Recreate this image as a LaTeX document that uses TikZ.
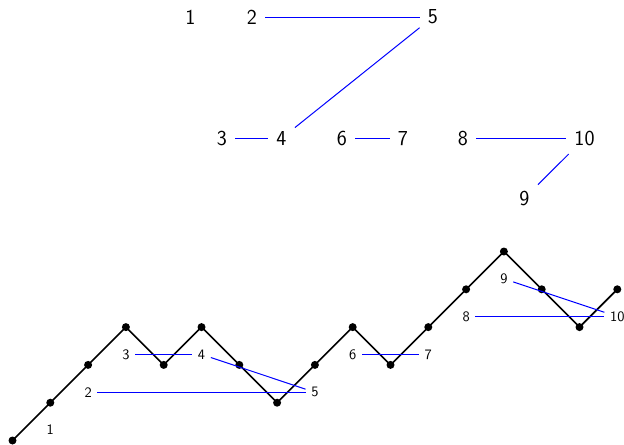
\documentclass[tikz,border=0pt]{standalone}

\tikzset{
  toplabel/.style={font=\sffamily\fontsize{16}{19}\selectfont, inner sep=6.3pt, outer sep=0pt},
  pathlabel/.style={font=\sffamily\fontsize{10.8}{13}\selectfont, inner sep=4.3pt, outer sep=0pt},
  pairing/.style={color={rgb, 255:red, 0; green, 0; blue, 255}, draw opacity=1, line width=0.75},
  vertex/.style={circle, fill=black, inner sep=0pt, minimum size=6pt}
}

\begin{document}
\begin{tikzpicture}[x=0.75pt,y=0.75pt,yscale=-1,xscale=1]
        \useasboundingbox (0,0) rectangle (624,444);
        % matching on top
        \node [toplabel] (t1) at (190.5,17) {1};
        \node [toplabel] (t2) at (252,17) {2};
        \node [toplabel] (t5) at (433,17) {5};
        \node [toplabel] (t3) at (222,138.3) {3};
        \node [toplabel] (t4) at (281.5,138.3) {4};
        \node [toplabel] (t6) at (342,138.3) {6};
        \node [toplabel] (t7) at (403,138.3) {7};
        \node [toplabel] (t8) at (463,138.3) {8};
        \node [toplabel] (t10) at (584.5,138.3) {10};
        \node [toplabel] (t9) at (524.5,198) {9};
        \draw [pairing] (t2) -- (t5);
        \draw [pairing] (t5) -- (t4);
        \draw [pairing] (t3) -- (t4);
        \draw [pairing] (t6) -- (t7);
        \draw [pairing] (t8) -- (t10);
        \draw [pairing] (t10) -- (t9);
        % lattice path
        \node [vertex] (p0) at (12.5,440.5) {};
        \node [vertex] (p1) at (50.3,402.7) {};
        \node [vertex] (p2) at (88.1,364.9) {};
        \node [vertex] (p3) at (125.9,327.1) {};
        \node [vertex] (p4) at (163.7,364.9) {};
        \node [vertex] (p5) at (201.5,327.1) {};
        \node [vertex] (p6) at (239.3,364.9) {};
        \node [vertex] (p7) at (277.1,402.7) {};
        \node [vertex] (p8) at (314.9,364.9) {};
        \node [vertex] (p9) at (352.7,327.1) {};
        \node [vertex] (p10) at (390.5,364.9) {};
        \node [vertex] (p11) at (428.3,327.1) {};
        \node [vertex] (p12) at (466.1,289.3) {};
        \node [vertex] (p13) at (503.9,251.5) {};
        \node [vertex] (p14) at (541.7,289.3) {};
        \node [vertex] (p15) at (579.5,327.1) {};
        \node [vertex] (p16) at (617.3,289.3) {};
        \draw [line width=1.2] (p0.center) -- (p1.center) -- (p2.center) -- (p3.center) -- (p4.center) -- (p5.center) -- (p6.center) -- (p7.center) -- (p8.center) -- (p9.center) -- (p10.center) -- (p11.center) -- (p12.center) -- (p13.center) -- (p14.center) -- (p15.center) -- (p16.center) ;
        \node [pathlabel] (b1) at (50.3,430) {1};
        \node [pathlabel] (b2) at (88.1,392.3) {2};
        \node [pathlabel] (b3) at (125.9,354.4) {3};
        \node [pathlabel] (b4) at (201.5,354.4) {4};
        \node [pathlabel] (b5) at (314.9,392.3) {5};
        \node [pathlabel] (b6) at (352.7,354.4) {6};
        \node [pathlabel] (b7) at (428.3,354.4) {7};
        \node [pathlabel] (b8) at (466.1,316.6) {8};
        \node [pathlabel] (b9) at (503.9,278.8) {9};
        \node [pathlabel] (b10) at (617.3,316.6) {10};
        \draw [pairing] (b2) -- (b5);
        \draw [pairing] (b3) -- (b4);
        \draw [pairing] (b4) -- (b5);
        \draw [pairing] (b6) -- (b7);
        \draw [pairing] (b8) -- (b10);
        \draw [pairing] (b9) -- (b10);
    \end{tikzpicture}
\end{document}
